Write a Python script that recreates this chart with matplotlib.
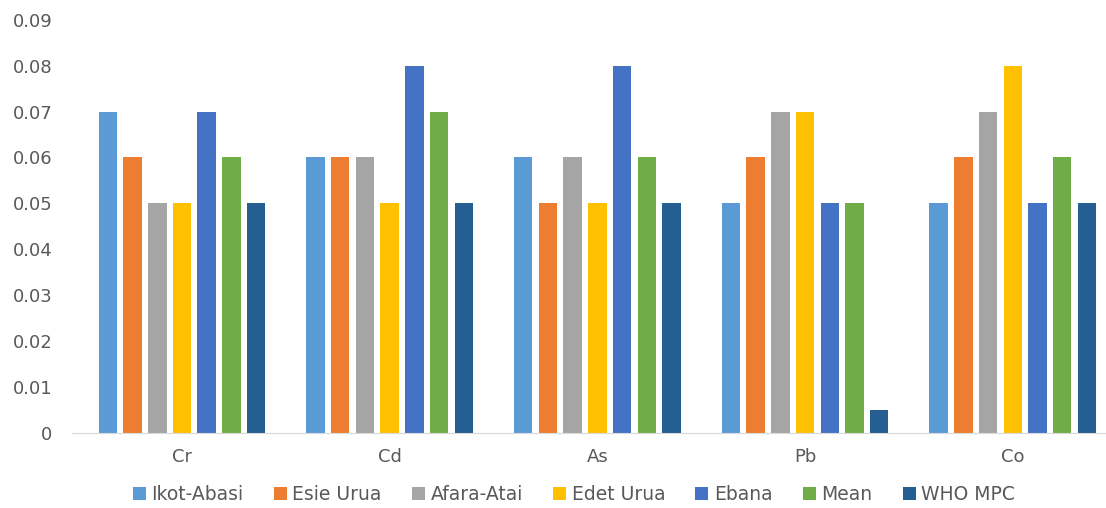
import matplotlib.pyplot as plt
import numpy as np

metals = ["Cr", "Cd", "As", "Pb", "Co"]
sites = ["Ikot-Abasi", "Esie Urua", "Afara-Atai", "Edet Urua", "Ebana", "Mean", "WHO MPC"]

ikot_abasi = [0.07, 0.06, 0.06, 0.05, 0.05]
esie_urua = [0.06, 0.06, 0.05, 0.06, 0.06]
afara_atai = [0.05, 0.06, 0.06, 0.07, 0.07]
edet_urua = [0.05, 0.05, 0.05, 0.07, 0.08]
ebana = [0.07, 0.08, 0.08, 0.05, 0.05]
mean = [0.06, 0.07, 0.06, 0.05, 0.06]
who_mpc = [0.05, 0.05, 0.05, 0.005, 0.05]

series = [ikot_abasi, esie_urua, afara_atai, edet_urua, ebana, mean, who_mpc]
colors = ["#5B9BD5", "#ED7D31", "#A5A5A5", "#FFC000", "#4472C4", "#70AD47", "#255E91"]

fig = plt.figure(figsize=(11.06, 5.08), dpi=100)
# plot area runs a little past the right edge of the figure
ax = fig.add_axes([0.065, 0.148, 0.939, 0.813])

x = np.arange(len(metals))
pitch = 0.119
width = 0.089
for i, (vals, name, c) in enumerate(zip(series, sites, colors)):
    offset = (i - 3) * pitch
    ax.bar(x + offset, vals, width, color=c, label=name)

ax.set_xlim(-0.53, len(metals) - 0.53)
ax.set_ylim(0, 0.09)
ax.set_yticks(np.arange(0, 0.091, 0.01))
ax.set_yticklabels(["0"] + [f"{v:.2f}" for v in np.arange(0.01, 0.091, 0.01)])
ax.set_xticks(x)
ax.set_xticklabels(metals)
ax.tick_params(axis="both", length=0, labelsize=13, colors="#595959")
ax.tick_params(axis="y", pad=14)
ax.tick_params(axis="x", pad=11)

for side in ["top", "right", "left"]:
    ax.spines[side].set_visible(False)
ax.spines["bottom"].set_color("#D9D9D9")

fig.legend(loc="lower center", ncol=7, frameon=False, fontsize=13.5,
           handlelength=0.7, handleheight=0.7, handletextpad=0.3,
           columnspacing=1.6, bbox_to_anchor=(0.519, -0.025),
           labelcolor="#595959")

fig.savefig("out.png", dpi=100)
